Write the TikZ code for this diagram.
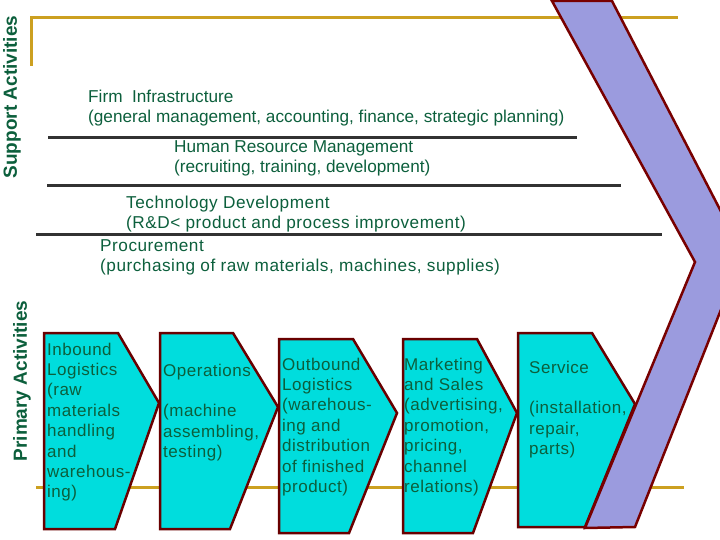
\documentclass[tikz,border=0pt]{standalone}
\usepackage{fontspec}
\setmainfont{Liberation Sans}
\newfontfamily\spc[LetterSpace=3]{Liberation Sans}
\definecolor{txtgreen}{RGB}{12,95,60}
\definecolor{gold}{RGB}{204,160,32}
\definecolor{rule}{RGB}{50,50,50}
\definecolor{boxfill}{RGB}{0,221,221}
\definecolor{boxline}{RGB}{105,0,0}
\definecolor{arrowfill}{RGB}{155,155,222}
\definecolor{arrowline}{RGB}{120,0,0}
\tikzset{
  supp/.style={anchor=base west, inner sep=0, align=left, text=txtgreen, font=\fontsize{17.2}{20}\selectfont},
  suppsp/.style={supp, font=\spc\fontsize{17.2}{20}\selectfont},
  prim/.style={anchor=base west, inner sep=0, align=left, text=txtgreen, font=\spc\fontsize{17}{20.4}\selectfont},
  side/.style={rotate=90, inner sep=0, text=txtgreen, font=\bfseries\fontsize{19}{22}\selectfont},
  goldline/.style={draw=gold, line width=3pt},
  ruleline/.style={draw=rule, line width=3pt},
  chev/.style={draw=boxline, fill=boxfill, line width=2.5pt, line join=miter},
  bigchev/.style={draw=arrowline, fill=arrowfill, line width=2.5pt, line join=miter}
}
\begin{document}
\begin{tikzpicture}[x=1pt,y=-1pt]
\useasboundingbox (0,0) rectangle (720,540);
\clip (0,0) rectangle (720,540);
% gold frame lines
\coordinate (g1) at (31,66);
\coordinate (g2) at (31,18);
\coordinate (g3) at (678,18);
\draw[goldline] (g1) -- (g2) -- (g3);
\coordinate (g4) at (36,487);
\coordinate (g5) at (684,487);
\draw[goldline] (g4) -- (g5);
% separator rules
\coordinate (r1a) at (48,138); \coordinate (r1b) at (577,138);
\coordinate (r2a) at (47,186); \coordinate (r2b) at (621,186);
\coordinate (r3a) at (36,234); \coordinate (r3b) at (662,234);
\draw[ruleline] (r1a) -- (r1b);
\draw[ruleline] (r2a) -- (r2b);
\draw[ruleline] (r3a) -- (r3b);
% support activities texts (anchor = baseline of the last line)
\node[supp] (firm) at (88,123) {Firm~ Infrastructure\\(general management, accounting, finance, strategic planning)};
\node[supp] (hrm) at (174,173) {Human Resource Management\\(recruiting, training, development)};
\node[suppsp] (tech) at (126,229) {Technology Development\\(R\&D< product and process improvement)};
\node[suppsp] (proc) at (100,271) {Procurement\\(purchasing of raw materials, machines, supplies)};
% side labels
\node[side] (suplab) at (12,97) {Support Activities};
\node[side] (primlab) at (22,381) {Primary Activities};
% primary activity chevrons
\draw[chev] (44,333) -- (118,333) -- (159,403) -- (115,529) -- (44,529) -- cycle;
\draw[chev] (160,333) -- (233,333) -- (278,407) -- (230,529) -- (160,529) -- cycle;
\draw[chev] (279,339) -- (353,339) -- (397,413) -- (349,533) -- (279,533) -- cycle;
\draw[chev] (403,339) -- (477,339) -- (517,413) -- (473,533) -- (403,533) -- cycle;
\draw[chev] (518,333) -- (592,333) -- (635,404) -- (585,527) -- (518,527) -- cycle;
% big margin chevron
\draw[bigchev] (552,1) -- (612,1) -- (743,254) -- (635,527) -- (585,528) -- (695,262) -- cycle;
% primary activity texts (anchor = baseline of the last line)
\node[prim] (inb) at (47,497.8) {Inbound\\Logistics\\(raw\\materials\\handling\\and\\warehous-\\ing)};
\node[prim] (ops) at (163,457.6) {Operations\\[20.4pt](machine\\assembling,\\testing)};
\node[prim] (outb) at (282,492.4) {Outbound\\Logistics\\(warehous-\\ing and\\distribution\\of finished\\product)};
\node[prim] (mkt) at (404,492.4) {Marketing\\and Sales\\(advertising,\\promotion,\\pricing,\\channel\\relations)};
\node[prim] (serv) at (529,454.6) {Service\\[20.4pt](installation,\\repair,\\parts)};
\end{tikzpicture}
\end{document}
